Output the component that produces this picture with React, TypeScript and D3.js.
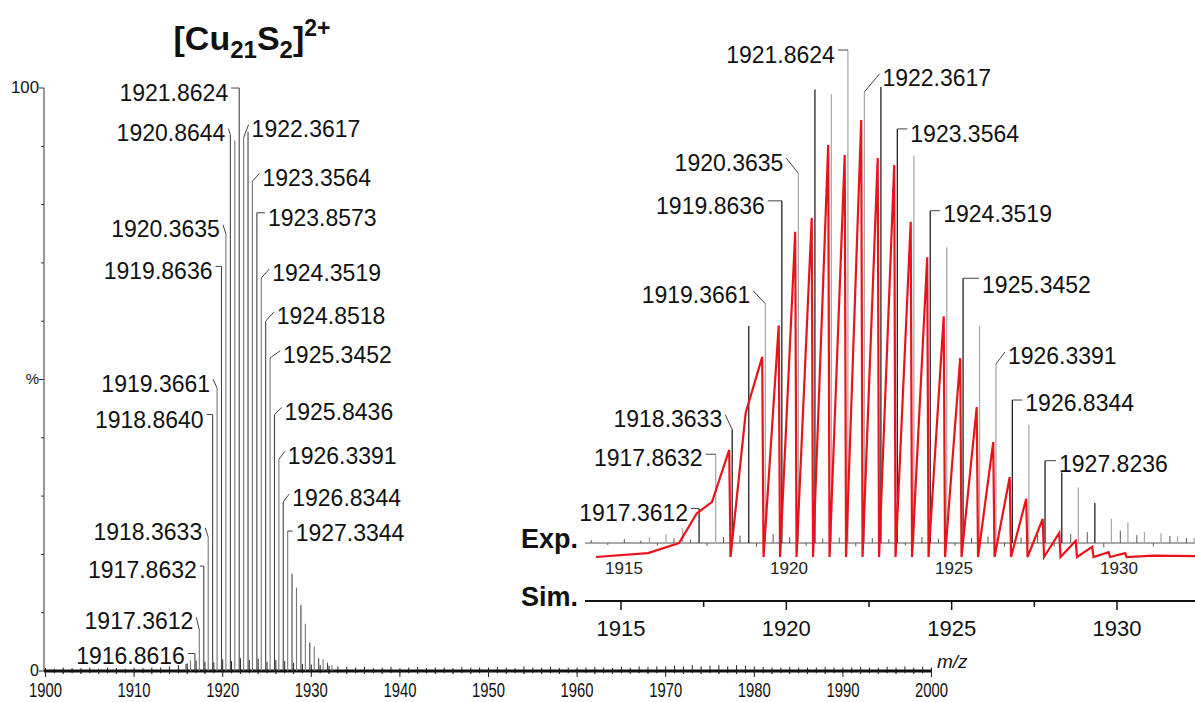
import React from 'react';
import * as d3 from 'd3';

// observed isotope peaks: m/z and relative intensity (%)
const expMz = [1915.86, 1916.36, 1916.8616, 1917.3612, 1917.8632, 1918.3633, 1918.8640, 1919.3661, 1919.8636,
  1920.3635, 1920.8644, 1921.362, 1921.8624, 1922.3617, 1922.86, 1923.3564, 1923.8573, 1924.3519, 1924.8518,
  1925.3452, 1925.8436, 1926.3391, 1926.8344, 1927.3344, 1927.8236, 1928.33, 1928.83, 1929.33, 1929.83,
  1930.33, 1930.83, 1931.33, 1931.83, 1932.33];
const expInt = [1.2, 1.8, 3, 7, 18, 23, 44, 48.5, 69.4,
  75, 92, 91, 100, 91.5, 92.5, 84, 78.6, 67.4, 60,
  53.7, 44, 36.3, 29, 24, 16.7, 14.3, 11.3, 8.1, 4.9,
  4.2, 2.2, 2, 1.4, 1];

// baseline noise of the full scan, one value per m/z unit from 1900 to 2000 (%)
const noiseStart = 1900;
const noiseMain = [
  0.5, 0.4, 0.6, 0.5, 0.5, 0.6, 0.4, 0.6, 0.5, 0.4,
  0.6, 0.5, 0.6, 0.6, 0.8, 1.0, 1.3, 1.8, 1.6, 1.5,
  2.0, 1.7, 2.2, 1.9, 2.1, 1.6, 1.9, 1.7, 1.4, 1.2,
  1.1, 1.0, 0.9, 0.8, 0.7, 0.6, 0.7, 0.5, 0.6, 0.7,
  0.5, 0.6, 0.7, 0.5, 0.6, 0.6, 0.5, 0.7, 0.6, 0.6,
  0.6, 0.7, 0.6, 0.5, 0.8, 0.6, 0.6, 0.7, 0.5, 0.6,
  0.6, 0.6, 0.7, 0.6, 0.5, 0.7, 0.6, 0.8, 0.7, 0.8,
  0.8, 0.9, 0.8, 1.0, 0.8, 0.9, 1.0, 0.8, 1.0, 0.9,
  0.8, 0.7, 0.6, 0.6, 0.7, 0.6, 0.6, 0.6, 0.7, 0.6,
  0.6, 0.6, 0.7, 0.6, 0.6, 0.7, 0.6, 0.8, 0.6, 0.7, 0.6];

// baseline noise in the zoomed experimental trace, every 0.5 from 1914.1 (%)
const expNoiseStart = 1914.1;
const expNoise = [0.6, -0.4, 0.8, 0.5, -0.5, 1.0, 0.7, -0.6, 1.2, 1.5, -0.8, 1.8, 1.2, -0.6, 0.9, 1.1, -0.7, 1.0,
  0.8, -0.5, 1.2, 0.9, -0.6, 1.0, 1.3, -0.8, 1.1, 1.6, -0.7, 1.8, 2.2, -0.9, 2.5, 1.6, -0.7, 1.4, 1.0];

// simulated profile
const simShoulderMz = [1914.3, 1915.88, 1916.82, 1917.36, 1917.82];
const simShoulderInt = [0, 0.9, 3.2, 10, 12.6];
const simPeakMz = [1918.36, 1918.86, 1919.36, 1919.86, 1920.36, 1920.86, 1921.36, 1921.86, 1922.36, 1922.86,
  1923.36, 1923.86, 1924.36, 1924.86, 1925.36, 1925.86, 1926.36, 1926.86, 1927.36, 1927.86, 1928.36, 1928.86,
  1929.36, 1929.86, 1930.36];
const simPeakInt = [24.5, 33, 45.8, 53, 74.4, 77.6, 94.3, 92, 100, 91.3,
  89.7, 76.7, 68.6, 55.1, 45.5, 34.3, 26.3, 18.3, 13.3, 8.7, 5.5, 3.7,
  2.3, 1.1, 0.9];
const simNoDrop = [1918.86];
const simTailMz = [1931.2, 1932.5];
const simTailInt = [0.3, 0.2];

const mainTicks = [1900, 1910, 1920, 1930, 1940, 1950, 1960, 1970, 1980, 1990, 2000];
const insetTicks = [1915, 1920, 1925, 1930];

type Lay = { t: string; side: number; dx: number; dy: number; hook: 'h' | 'd' };

const mainLayout: Lay[] = [
  { t: '1916.8616', side: -1, dx: 10, dy: 2, hook: 'h' },
  { t: '1917.3612', side: -1, dx: 6, dy: -9, hook: 'd' },
  { t: '1917.8632', side: -1, dx: 7, dy: 4, hook: 'h' },
  { t: '1918.3633', side: -1, dx: 6, dy: -5, hook: 'd' },
  { t: '1918.8640', side: -1, dx: 9, dy: 5, hook: 'h' },
  { t: '1919.3661', side: -1, dx: 7, dy: -5, hook: 'd' },
  { t: '1919.8636', side: -1, dx: 9, dy: 4, hook: 'h' },
  { t: '1920.3635', side: -1, dx: 6, dy: -5, hook: 'd' },
  { t: '1920.8644', side: -1, dx: 5, dy: -2, hook: 'd' },
  { t: '1921.8624', side: -1, dx: 11, dy: 5, hook: 'h' },
  { t: '1922.3617', side: 1, dx: 8, dy: -9, hook: 'd' },
  { t: '1923.3564', side: 1, dx: 10, dy: -4, hook: 'd' },
  { t: '1923.8573', side: 1, dx: 11, dy: 5, hook: 'h' },
  { t: '1924.3519', side: 1, dx: 11, dy: -5, hook: 'd' },
  { t: '1924.8518', side: 1, dx: 11, dy: -5, hook: 'd' },
  { t: '1925.3452', side: 1, dx: 13, dy: -3, hook: 'd' },
  { t: '1925.8436', side: 1, dx: 10, dy: -3, hook: 'd' },
  { t: '1926.3391', side: 1, dx: 9, dy: -4, hook: 'd' },
  { t: '1926.8344', side: 1, dx: 9, dy: -4, hook: 'd' },
  { t: '1927.3344', side: 1, dx: 8, dy: 2, hook: 'h' },
];

const insetLayout: Lay[] = [
  { t: '1917.3612', side: -1, dx: 11, dy: 4, hook: 'h' },
  { t: '1917.8632', side: -1, dx: 13, dy: 3, hook: 'h' },
  { t: '1918.3633', side: -1, dx: 10, dy: -11, hook: 'd' },
  { t: '1919.3661', side: -1, dx: 15, dy: -9, hook: 'd' },
  { t: '1919.8636', side: -1, dx: 17, dy: 5, hook: 'h' },
  { t: '1920.3635', side: -1, dx: 15, dy: -11, hook: 'd' },
  { t: '1921.8624', side: -1, dx: 13, dy: 5, hook: 'h' },
  { t: '1922.3617', side: 1, dx: 18, dy: -14, hook: 'd' },
  { t: '1923.3564', side: 1, dx: 13, dy: 5, hook: 'h' },
  { t: '1924.3519', side: 1, dx: 13, dy: 3, hook: 'h' },
  { t: '1925.3452', side: 1, dx: 19, dy: 6, hook: 'h' },
  { t: '1926.3391', side: 1, dx: 12, dy: -8, hook: 'd' },
  { t: '1926.8344', side: 1, dx: 13, dy: 3, hook: 'h' },
  { t: '1927.8236', side: 1, dx: 14, dy: 3, hook: 'h' },
];

const FONT = "'Liberation Sans', Arial, Helvetica, sans-serif";

function PeakLabels({ layout, x, y }: { layout: Lay[]; x: any; y: any }) {
  return (
    <g>
      {layout.map((l) => {
        const i = expMz.findIndex((m) => m.toFixed(4) === l.t);
        const px = x(expMz[i]);
        const top = y(expInt[i]);
        const cy = top + l.dy;
        const tx = px + l.side * l.dx;
        const hx = px + l.side * (l.dx - 3);
        const d = l.hook === 'h' ? `M${hx},${top}H${px}` : `M${hx},${cy - 4}L${px},${top}`;
        return (
          <g key={l.t}>
            <path d={d} fill="none" stroke="#444" strokeWidth={1} />
            <text x={tx} y={cy} dy="0.36em" fontSize={23} fill="#111"
              textAnchor={l.side < 0 ? 'end' : 'start'}>{l.t}</text>
          </g>
        );
      })}
    </g>
  );
}

export default function App() {
  // full scan
  const xM = d3.scaleLinear().domain([1900, 2000]).range([45.5, 931.5]);
  const yM = d3.scaleLinear().domain([0, 100]).range([671, 88]);
  // zoomed inset
  const xIn = d3.scaleLinear().domain([1915, 1930]).range([621, 1117]);
  const yExp = d3.scaleLinear().domain([0, 100]).range([543, 50]);
  const xSim = d3.scaleLinear().domain([1915, 1930]).range([619, 1114]);
  const ySim = d3.scaleLinear().domain([0, 100]).range([557, 120]);

  const inLeft = 585;
  const inRight = 1195;

  const simPts: [number, number][] = simShoulderMz.map((m, i) => [m, simShoulderInt[i]] as [number, number]);
  simPeakMz.forEach((m, i) => {
    simPts.push([m - 0.02, simPeakInt[i]]);
    if (!simNoDrop.includes(m)) simPts.push([m + 0.02, 0]);
  });
  simTailMz.forEach((m, i) => simPts.push([m, simTailInt[i]]));
  const simLine = d3.line<[number, number]>().x((p) => xSim(p[0])).y((p) => ySim(p[1]));

  const mainMinor = d3.range(1900, 2001, 2);
  const yMinor = d3.range(0, 101, 10);
  const inMinor = [1917.5, 1922.5, 1927.5];
  const darkLines = [1917.3612, 1918.3633, 1918.864, 1919.8636, 1920.8644, 1922.86, 1923.3564, 1924.3519,
    1925.3452, 1926.8344, 1927.8236, 1928.33, 1929.33];

  return (
    <div style={{ position: 'absolute', left: 0, top: 0 }}>
      <svg width={1195} height={702} style={{ display: 'block', background: '#fff' }} fontFamily={FONT}>
        {/* title */}
        <text x={252} y={50} textAnchor="middle" fontSize={34} fontWeight="bold" fill="#111">
          [Cu<tspan fontSize={24} dy={8}>21</tspan><tspan dy={-8}>S</tspan><tspan fontSize={24} dy={8}>2</tspan>
          <tspan dy={-8}>]</tspan><tspan fontSize={23} dy={-14}>2+</tspan>
        </text>

        {/* full scan y axis */}
        <line x1={44} x2={44} y1={yM(100)} y2={yM(0)} stroke="#333" strokeWidth={1} />
        {yMinor.map((v) => (
          <line key={v} x1={44} x2={v % 50 === 0 ? 39 : 41} y1={yM(v)} y2={yM(v)} stroke="#333" strokeWidth={1} />
        ))}
        <text x={39} y={yM(100)} dy="0.3em" textAnchor="end" fontSize={16} fill="#111"
          textLength={28} lengthAdjust="spacingAndGlyphs">100</text>
        <text x={39} y={yM(50)} dy="0.3em" textAnchor="end" fontSize={15} fill="#111">%</text>
        <text x={39} y={yM(0)} dy="0.3em" textAnchor="end" fontSize={16} fill="#111">0</text>

        {/* full scan noise + baseline */}
        {noiseMain.map((h, i) => (
          <line key={i} x1={xM(noiseStart + i)} x2={xM(noiseStart + i)} y1={yM(-0.4)} y2={yM(h)}
            stroke="#222" strokeWidth={1} />
        ))}
        <line x1={44} x2={xM(2000)} y1={yM(0)} y2={yM(0)} stroke="#111" strokeWidth={3} />

        {/* full scan peaks */}
        {expMz.map((m, i) => (
          <line key={m} x1={xM(m)} x2={xM(m)} y1={yM(0)} y2={yM(expInt[i])}
            stroke={i % 2 === 0 ? '#444' : '#777'} strokeWidth={1.1} />
        ))}
        <PeakLabels layout={mainLayout} x={xM} y={yM} />

        {/* full scan x axis */}
        {mainMinor.map((v) => (
          <line key={v} x1={xM(v)} x2={xM(v)} y1={yM(0)} y2={yM(0) + (v % 10 === 0 ? 6 : 3)} stroke="#222" strokeWidth={1} />
        ))}
        {mainTicks.map((v) => (
          <text key={v} x={xM(v)} y={690} dy="0.35em" textAnchor="middle" fontSize={20} fill="#111"
            textLength={33} lengthAdjust="spacingAndGlyphs">{v}</text>
        ))}
        <text x={937} y={661} dy="0.35em" fontSize={19} fontStyle="italic" fill="#111">m/z</text>

        {/* inset: experimental */}
        {expNoise.map((h, i) => (
          <line key={i} x1={xIn(expNoiseStart + i * 0.5)} x2={xIn(expNoiseStart + i * 0.5)}
            y1={yExp(0)} y2={yExp(h)} stroke="#555" strokeWidth={1} />
        ))}
        <line x1={inLeft} x2={inRight} y1={yExp(0)} y2={yExp(0)} stroke="#555" strokeWidth={1} />
        {expMz.map((m, i) => (
          <line key={m} x1={xIn(m)} x2={xIn(m)} y1={yExp(0)} y2={yExp(expInt[i])}
            stroke={darkLines.includes(m) ? '#222' : '#aaa'} strokeWidth={1.3} />
        ))}
        <PeakLabels layout={insetLayout} x={xIn} y={yExp} />

        {/* inset: simulated */}
        <path d={simLine(simPts) || ''} fill="none" stroke="#e8141c" strokeWidth={2.2} strokeLinejoin="miter" />
        {insetTicks.map((v) => (
          <text key={v} x={xSim(v) + 5} y={568} dy="0.35em" textAnchor="middle" fontSize={17} fill="#222">{v}</text>
        ))}

        <text x={521} y={548} fontSize={27} fontWeight="bold" fill="#111">Exp.</text>
        <text x={521} y={606} fontSize={27} fontWeight="bold" fill="#111">Sim.</text>

        {/* inset axis */}
        <line x1={inLeft} x2={inRight} y1={601} y2={601} stroke="#111" strokeWidth={2} />
        {insetTicks.map((v) => (
          <line key={v} x1={xIn(v)} x2={xIn(v)} y1={601} y2={610} stroke="#111" strokeWidth={1.5} />
        ))}
        {inMinor.map((v) => (
          <line key={v} x1={xIn(v)} x2={xIn(v)} y1={601} y2={607} stroke="#111" strokeWidth={1.5} />
        ))}
        {insetTicks.map((v) => (
          <text key={v} x={xIn(v)} y={628} dy="0.35em" textAnchor="middle" fontSize={22} fill="#111">{v}</text>
        ))}
      </svg>
    </div>
  );
}
